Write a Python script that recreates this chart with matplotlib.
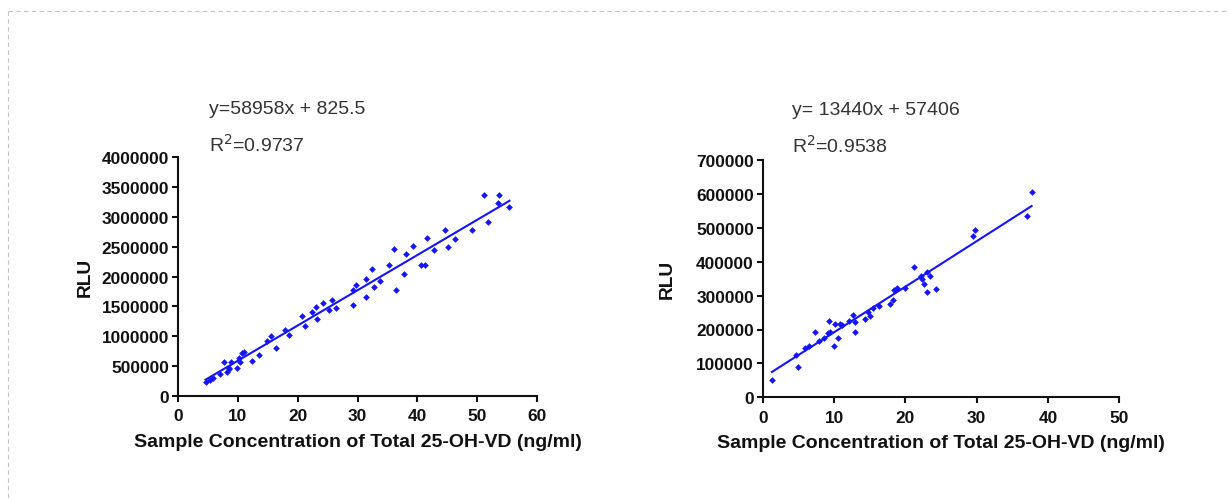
import numpy as np
import matplotlib.pyplot as plt
from matplotlib.lines import Line2D

plt.rcParams["font.family"] = ["Liberation Sans", "DejaVu Sans"]

BLUE = "#1414ff"
INK = "#111111"
XLABEL = "Sample Concentration of Total 25-OH-VD (ng/ml)"

# ---- panel 1 data ----
x1 = [4.6, 5.4, 5.8, 7.1, 7.7, 8.2, 8.5, 8.9, 8.6, 9.8, 10.2, 10.3, 10.7, 11.1,
      12.4, 13.6, 14.8, 15.6, 16.3, 17.8, 18.6, 20.7, 21.2, 22.4, 23.0, 23.3,
      24.3, 25.2, 25.7, 26.4, 29.2, 29.2, 29.8, 31.4, 31.4, 32.5, 32.7, 33.8,
      35.3, 36.1, 36.5, 37.8, 38.1, 39.2, 40.6, 41.3, 41.6, 42.8, 44.7, 45.2,
      46.3, 49.2, 51.1, 51.8, 53.4, 53.7, 55.4]
y1 = [236e3, 269e3, 303e3, 370e3, 572e3, 404e3, 449e3, 562e3, 461e3, 461e3,
      640e3, 562e3, 719e3, 741e3, 584e3, 685e3, 921e3, 1010e3, 798e3, 1111e3,
      1022e3, 1347e3, 1178e3, 1404e3, 1493e3, 1291e3, 1561e3, 1438e3, 1606e3,
      1471e3, 1527e3, 1774e3, 1864e3, 1650e3, 1965e3, 2133e3, 1830e3, 1931e3,
      2200e3, 2458e3, 1774e3, 2044e3, 2380e3, 2503e3, 2200e3, 2200e3, 2638e3,
      2436e3, 2784e3, 2492e3, 2626e3, 2784e3, 3367e3, 2919e3, 3232e3, 3357e3,
      3155e3]
slope1, icpt1, r2_1 = 58958, 825.5, 0.9737

# ---- panel 2 data ----
x2 = [1.3, 4.7, 4.9, 6.0, 6.5, 7.4, 7.9, 8.6, 9.1, 9.3, 9.5, 10.0, 10.2, 10.5,
      10.8, 11.1, 12.1, 12.7, 12.9, 13.0, 14.4, 14.8, 15.1, 15.5, 16.3, 17.9,
      18.2, 18.4, 18.8, 19.9, 21.2, 22.2, 22.3, 22.6, 23.0, 23.0, 23.5, 24.3,
      29.5, 29.8, 37.0, 37.7]
y2 = [52e3, 125e3, 89e3, 145e3, 152e3, 194e3, 166e3, 176e3, 190e3, 225e3,
      194e3, 152e3, 215e3, 176e3, 215e3, 213e3, 225e3, 243e3, 192e3, 223e3,
      231e3, 251e3, 241e3, 263e3, 268e3, 274e3, 288e3, 316e3, 322e3, 322e3,
      384e3, 359e3, 349e3, 333e3, 369e3, 311e3, 359e3, 319e3, 475e3, 494e3,
      534e3, 605e3]
slope2, icpt2, r2_2 = 13440, 57406, 0.9538

W, H = 1229, 502
fig = plt.figure(figsize=(W / 100, H / 100), dpi=100)
fig.patch.set_facecolor("white")


def px(x, y):
    return x / W, 1 - y / H


def panel(rect, xs, ys, slope, icpt, xmax, xstep, ymax, ystep, lab_x):
    ax = fig.add_axes(rect)
    xs, ys = np.array(xs), np.array(ys)
    ax.plot(xs, ys, "D", color=BLUE, ms=3.4, mew=0, zorder=3, clip_on=False)
    xl = np.array([xs.min(), xs.max()])
    ax.plot(xl, slope * xl + icpt, color=BLUE, lw=1.5, zorder=2)
    ax.set_xlim(0, xmax)
    ax.set_ylim(0, ymax)
    ax.set_xticks(np.arange(0, xmax + 1, xstep))
    ax.set_yticks(np.arange(0, ymax + 1, ystep))
    ax.yaxis.set_major_formatter(plt.FuncFormatter(lambda v, p: f"{int(v)}"))
    for s in ["top", "right"]:
        ax.spines[s].set_visible(False)
    for s in ["left", "bottom"]:
        ax.spines[s].set_linewidth(1.5)
        ax.spines[s].set_color(INK)
    ax.tick_params(direction="out", length=4.3, width=1.5, colors=INK,
                   labelsize=12.4)
    ax.tick_params(axis="x", pad=4.5)
    ax.tick_params(axis="y", pad=2)
    for t in ax.get_xticklabels() + ax.get_yticklabels():
        t.set_fontweight("bold")
    ax.set_xlabel(XLABEL, fontsize=14, fontweight="bold", color=INK, labelpad=7)
    ax.set_ylabel("RLU", fontsize=13.8, fontweight="bold", color=INK, va="center")
    ax.yaxis.set_label_coords(lab_x, 0.5)
    return ax


ax1 = panel([178 / W, 105 / H, 359 / W, 239 / H], x1, y1, slope1, icpt1,
            60, 10, 4000000, 500000, -0.259)
ax2 = panel([762.7 / W, 103.7 / H, 356.6 / W, 237.3 / H], x2, y2, slope2, icpt2,
            50, 10, 700000, 100000, -0.267)

# regression annotations
TXT = dict(fontsize=14, color="#333333", va="baseline", ha="left")
fig.text(*px(209, 113.5), f"y={slope1}x + {icpt1}", **TXT)
fig.text(*px(209, 151.5), f"R$^2$={r2_1}", **TXT)
fig.text(*px(792, 115), f"y= {slope2}x + {icpt2}", **TXT)
fig.text(*px(792, 152.5), f"R$^2$={r2_2}", **TXT)

# dashed frame (top and left edges)
fx, fy = px(8, 12)
fig.add_artist(Line2D([fx, 1], [fy, fy], color="#c4c4c4", lw=0.8,
                      ls=(0, (4, 3)), transform=fig.transFigure))
fig.add_artist(Line2D([fx, fx], [fy, 0], color="#c4c4c4", lw=0.8,
                      ls=(0, (4, 3)), transform=fig.transFigure))

fig.savefig("out.png", dpi=100, facecolor="white")
